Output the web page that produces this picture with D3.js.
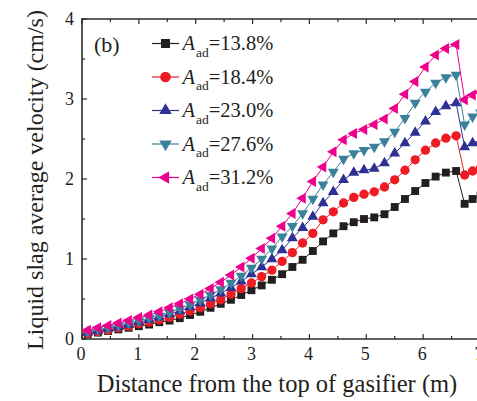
<!DOCTYPE html>
<html>
<head>
<meta charset="utf-8">
<script src="https://cdn.jsdelivr.net/npm/d3@7"></script>
<style>
    body { margin: 0; background: #fff; }
    svg { display: block; }
</style>
</head>
<body>
<script>
const width = 477
const height = 401
const margin = { top: 19, right: -3, bottom: 62, left: 82 }

// distance from the top of the gasifier (m)
const distance = [
    0.10, 0.28, 0.46, 0.64, 0.82, 1.00, 1.18, 1.36, 1.54, 1.72,
    1.90, 2.08, 2.26, 2.44, 2.62, 2.80, 2.98, 3.16, 3.34, 3.52,
    3.70, 3.88, 4.06, 4.24, 4.42, 4.60, 4.78, 4.96, 5.14, 5.32,
    5.50, 5.68, 5.86, 6.04, 6.22, 6.40, 6.58, 6.73, 6.87, 7.01,
]

// liquid slag average velocity (cm/s) per ash content
const v138 = [
    0.06, 0.08, 0.10, 0.12, 0.14, 0.16, 0.18, 0.21, 0.23, 0.26,
    0.30, 0.34, 0.39, 0.44, 0.49, 0.55, 0.61, 0.67, 0.74, 0.81,
    0.90, 0.99, 1.10, 1.22, 1.32, 1.41, 1.46, 1.50, 1.52, 1.56,
    1.65, 1.75, 1.85, 1.95, 2.03, 2.08, 2.10, 1.69, 1.75, 1.79,
]
const v184 = [
    0.07, 0.09, 0.11, 0.14, 0.16, 0.19, 0.21, 0.24, 0.27, 0.31,
    0.35, 0.39, 0.44, 0.49, 0.56, 0.63, 0.70, 0.78, 0.86, 0.97,
    1.08, 1.20, 1.32, 1.49, 1.59, 1.70, 1.77, 1.81, 1.84, 1.90,
    1.99, 2.11, 2.24, 2.36, 2.45, 2.51, 2.54, 2.05, 2.10, 2.14,
]
const v230 = [
    0.08, 0.10, 0.13, 0.15, 0.18, 0.21, 0.24, 0.27, 0.31, 0.35,
    0.40, 0.45, 0.51, 0.57, 0.64, 0.72, 0.81, 0.90, 1.00, 1.11,
    1.26, 1.39, 1.53, 1.70, 1.84, 1.99, 2.08, 2.11, 2.13, 2.20,
    2.32, 2.45, 2.58, 2.72, 2.84, 2.91, 2.95, 2.40, 2.45, 2.48,
]
const v276 = [
    0.09, 0.12, 0.14, 0.17, 0.20, 0.23, 0.26, 0.29, 0.33, 0.38,
    0.43, 0.49, 0.55, 0.62, 0.70, 0.79, 0.89, 1.00, 1.13, 1.28,
    1.41, 1.57, 1.75, 1.93, 2.09, 2.25, 2.32, 2.36, 2.40, 2.47,
    2.59, 2.76, 2.95, 3.09, 3.20, 3.27, 3.30, 2.68, 2.78, 2.83,
]
const v312 = [
    0.11, 0.14, 0.17, 0.20, 0.23, 0.27, 0.30, 0.34, 0.39, 0.44,
    0.50, 0.56, 0.63, 0.71, 0.80, 0.90, 1.01, 1.13, 1.26, 1.41,
    1.57, 1.76, 1.97, 2.15, 2.34, 2.49, 2.57, 2.62, 2.68, 2.75,
    2.88, 3.06, 3.22, 3.40, 3.55, 3.63, 3.68, 2.99, 3.05, 3.09,
]

const seriesLabels = ['13.8%', '18.4%', '23.0%', '27.6%', '31.2%']
const xTicks = [0, 1, 2, 3, 4, 5, 6, 7]
const yTicks = [0, 1, 2, 3, 4]

const series = [
    { label: seriesLabels[0], values: v138, color: '#231f20', symbol: d3.symbolSquare, size: 62, rotate: 0 },
    { label: seriesLabels[1], values: v184, color: '#ed1c24', symbol: d3.symbolCircle, size: 68, rotate: 0 },
    { label: seriesLabels[2], values: v230, color: '#2e3192', symbol: d3.symbolTriangle, size: 52, rotate: 0 },
    { label: seriesLabels[3], values: v276, color: '#3b8199', symbol: d3.symbolTriangle, size: 52, rotate: 180 },
    { label: seriesLabels[4], values: v312, color: '#ec008c', symbol: d3.symbolTriangle, size: 52, rotate: -90 },
]

const svg = d3.select('body').append('svg')
    .attr('width', width)
    .attr('height', height)
    .attr('viewBox', [0, 0, width, height])

const x = d3.scaleLinear()
    .domain([0, 7])
    .range([margin.left, width - margin.right])
const y = d3.scaleLinear()
    .domain([0, 4])
    .range([height - margin.bottom, margin.top])

const font = '"Liberation Serif", "Times New Roman", serif'
const axisColor = '#2b2b2b'
const textColor = '#231f20'

// ticks inside the frame
const xMinor = d3.range(0, 7.01, 0.5)
const yMinor = d3.range(0, 4.01, 0.5)

const tickG = svg.append('g')
    .attr('stroke', axisColor)
    .attr('stroke-width', 1.2)

tickG.selectAll('.xb')
    .data(xMinor)
    .join('line')
        .attr('class', 'xb')
        .attr('x1', d => x(d))
        .attr('x2', d => x(d))
        .attr('y1', y(0))
        .attr('y2', d => y(0) - (d % 1 === 0 ? 5 : 3))
tickG.selectAll('.xt')
    .data(xMinor)
    .join('line')
        .attr('class', 'xt')
        .attr('x1', d => x(d))
        .attr('x2', d => x(d))
        .attr('y1', y(4))
        .attr('y2', d => y(4) + (d % 1 === 0 ? 5 : 3))
tickG.selectAll('.yl')
    .data(yMinor)
    .join('line')
        .attr('class', 'yl')
        .attr('x1', x(0))
        .attr('x2', d => x(0) + (d % 1 === 0 ? 5 : 3))
        .attr('y1', d => y(d))
        .attr('y2', d => y(d))

// frame
svg.append('path')
    .attr('fill', 'none')
    .attr('stroke', axisColor)
    .attr('stroke-width', 1.6)
    .attr('d', `M${x(7)},${y(4)}H${x(0)}V${y(0)}H${x(7)}`)

// tick labels
svg.append('g')
        .attr('font-family', font)
        .attr('font-size', 18)
        .attr('fill', textColor)
    .selectAll('text')
    .data(xTicks)
    .join('text')
        .attr('x', d => x(d) - 1)
        .attr('y', y(0) + 20.5)
        .attr('text-anchor', 'middle')
        .text(d => d)

svg.append('g')
        .attr('font-family', font)
        .attr('font-size', 18)
        .attr('fill', textColor)
    .selectAll('text')
    .data(yTicks)
    .join('text')
        .attr('x', x(0) - 8)
        .attr('y', d => y(d) + 6)
        .attr('text-anchor', 'end')
        .text(d => d)

// axis titles
svg.append('text')
    .attr('font-family', font)
    .attr('font-size', 24.5)
    .attr('fill', textColor)
    .attr('x', 277)
    .attr('y', 391.5)
    .attr('text-anchor', 'middle')
    .text('Distance from the top of gasifier (m)')

svg.append('text')
    .attr('font-family', font)
    .attr('font-size', 24)
    .attr('fill', textColor)
    .attr('transform', `translate(43,180) rotate(-90)`)
    .attr('text-anchor', 'middle')
    .text('Liquid slag average velocity (cm/s)')

// lines + markers
const line = d3.line()
    .x((d, i) => x(distance[i]))
    .y(d => y(d))

const plot = svg.append('g')

for (const s of series) {
    const g = plot.append('g')
    g.append('path')
        .datum(s.values)
        .attr('fill', 'none')
        .attr('stroke', s.color)
        .attr('stroke-width', 1)
        .attr('d', line)
    g.selectAll('path.m')
        .data(s.values)
        .join('path')
            .attr('class', 'm')
            .attr('fill', s.color)
            .attr('transform', (d, i) => `translate(${x(distance[i])},${y(d)}) rotate(${s.rotate})`)
            .attr('d', d3.symbol(s.symbol, s.size))
}

// legend
svg.append('text')
    .attr('font-family', font)
    .attr('font-size', 22)
    .attr('fill', textColor)
    .attr('x', 94)
    .attr('y', 52)
    .text('(b)')

const legend = svg.append('g')
    .selectAll('g')
    .data(series)
    .join('g')
        .attr('transform', (d, i) => `translate(0,${43.5 + i * 33.5})`)

legend.append('line')
    .attr('x1', 152)
    .attr('x2', 179)
    .attr('stroke', d => d.color)
    .attr('stroke-width', 1.2)
legend.append('path')
    .attr('fill', d => d.color)
    .attr('transform', d => `translate(165.5,0) rotate(${d.rotate})`)
    .attr('d', d => d3.symbol(d.symbol, d.size * 1.3)())

const label = legend.append('text')
    .attr('font-family', font)
    .attr('font-size', 20.5)
    .attr('fill', textColor)
    .attr('x', 182.5)
    .attr('y', 6.5)
label.append('tspan')
    .attr('font-style', 'italic')
    .text('A')
label.append('tspan')
    .attr('font-size', 13.5)
    .attr('dx', 1)
    .attr('dy', 6.5)
    .text('ad')
label.append('tspan')
    .attr('dy', -6.5)
    .text(d => '=' + d.label)
</script>
</body>
</html>
